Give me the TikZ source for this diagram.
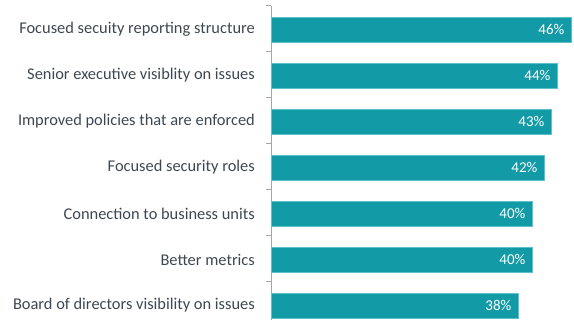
\documentclass[tikz,border=0pt]{standalone}
\usepackage{fontspec}
\setmainfont{Carlito}
\usepackage{tikz}
\usetikzlibrary{positioning}
\definecolor{barfill}{HTML}{129BA6}
\definecolor{baredge}{HTML}{5EC0C8}
\definecolor{axisgray}{HTML}{A6A6A6}
\definecolor{labelgray}{HTML}{3E4751}
\tikzstyle{barre}=[
        rectangle,
        draw=baredge,
        line width=0.6pt,
        fill=barfill,
        inner sep=0pt,
        minimum height=25pt,
        anchor=west
]
\tikzstyle{pct}=[anchor=east,text=white,inner sep=0pt,font=\fontsize{15}{17}\selectfont]
\tikzstyle{categ}=[anchor=east,text=labelgray,inner sep=0pt,font=\fontsize{16.4}{19}\selectfont]
\tikzstyle{axe}=[draw=axisgray,line width=1pt]
\begin{document}
\begin{tikzpicture}[x=1pt,y=-1pt]
\useasboundingbox (0,0) rectangle (574,320);
%axe
\coordinate (top) at (271,6);
\coordinate (bot) at (271,320);
\draw[axe] (top) -- (bot);
\foreach \t in {6,52,98,144,190,236,282}{
  \draw[axe] (266,\t) -- (271,\t);
}
%barres
\node[barre,minimum width=300pt] (b1) at (271,29.5) {};
\node[barre,minimum width=286pt] (b2) at (271,75.5) {};
\node[barre,minimum width=280pt] (b3) at (271,121.5) {};
\node[barre,minimum width=273pt] (b4) at (271,167.5) {};
\node[barre,minimum width=261pt] (b5) at (271,213.5) {};
\node[barre,minimum width=261pt] (b6) at (271,259.5) {};
\node[barre,minimum width=247pt] (b7) at (271,305.5) {};
%valeurs
\node[pct] (v1) at ([xshift=-7pt]b1.east) {46\%};
\node[pct] (v2) at ([xshift=-7pt]b2.east) {44\%};
\node[pct] (v3) at ([xshift=-7pt]b3.east) {43\%};
\node[pct] (v4) at ([xshift=-7pt]b4.east) {42\%};
\node[pct] (v5) at ([xshift=-7pt]b5.east) {40\%};
\node[pct] (v6) at ([xshift=-7pt]b6.east) {40\%};
\node[pct] (v7) at ([xshift=-7pt]b7.east) {38\%};
%etiquettes
\node[categ] (c1) at (255,29.5) {Focused secuity reporting structure};
\node[categ] (c2) at (255,75.5) {Senior executive visiblity on issues};
\node[categ] (c3) at (255,121.5) {Improved policies that are enforced};
\node[categ] (c4) at (255,167.5) {Focused security roles};
\node[categ] (c5) at (255,213.5) {Connection to business units};
\node[categ] (c6) at (255,259.5) {Better metrics};
\node[categ] (c7) at (255,305.5) {Board of directors visibility on issues};
\end{tikzpicture}
\end{document}
